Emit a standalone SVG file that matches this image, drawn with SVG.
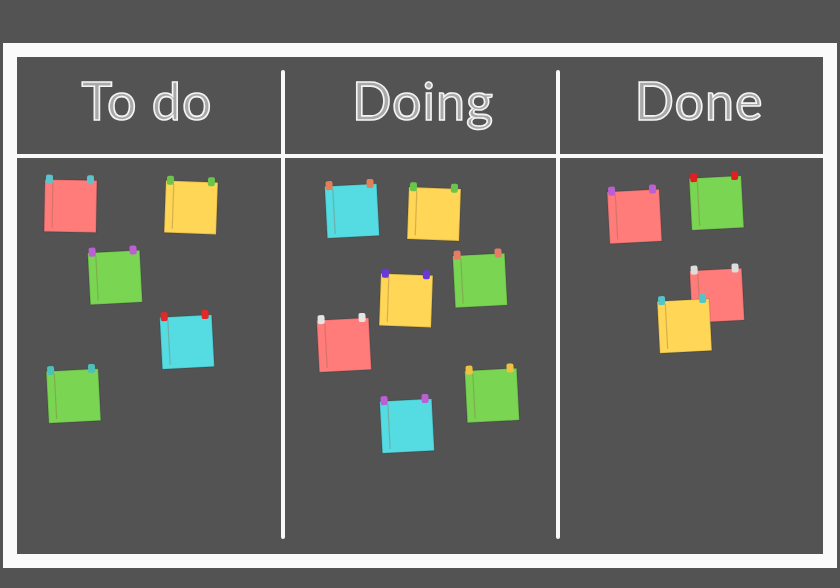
<svg xmlns="http://www.w3.org/2000/svg" width="840" height="588" viewBox="0 0 840 588">
<defs>
<style>
.bg{fill:#535353}
.frame{fill:none;stroke:#fafafa;stroke-width:14}
.div{stroke:#f8f8f8;stroke-width:4;stroke-linecap:round}
.hdr{font-family:Lato,"Open Sans",sans-serif;font-weight:400;font-size:52px;fill:#a9a9a9;stroke:#f4f4f4;stroke-width:1.6;text-anchor:middle;letter-spacing:1px}
.pk{fill:#ff7c7a}.yl{fill:#ffd655}.gr{fill:#7ad553}.cy{fill:#55dbe2}
.edge{fill:none;stroke:#000;stroke-opacity:0.12;stroke-width:1.5}
.crease{stroke:#8a6a40;stroke-opacity:0.35;stroke-width:1.2}
</style>
</defs>
<rect class="bg" x="0" y="0" width="840" height="588"/>
<rect class="frame" x="10" y="50" width="820" height="511"/>
<g id="dividers">
<line class="div" x1="17" y1="156" x2="823" y2="156"/>
<line class="div" x1="283" y1="72" x2="283" y2="537"/>
<line class="div" x1="558" y1="72" x2="558" y2="537"/>
</g>
<g id="headers">
<text class="hdr" x="147" y="120">To do</text>
<text class="hdr" x="423" y="120">Doing</text>
<text class="hdr" x="699" y="120">Done</text>
</g>
<g id="notes">
<!-- To do -->
<g id="n1" transform="translate(70.5,206) rotate(1)"><rect class="pk" x="-26" y="-26" width="52" height="52"/><rect class="edge" x="-26" y="-26" width="52" height="52"/><line class="crease" x1="-18" y1="-23" x2="-18" y2="22"/><rect x="-25" y="-31" width="7" height="9" rx="2" fill="#5cc3cc"/><rect x="16" y="-31" width="7" height="9" rx="2" fill="#5cc3cc"/></g>
<g id="n2" transform="translate(191,207.5) rotate(2)"><rect class="yl" x="-26" y="-26" width="52" height="52"/><rect class="edge" x="-26" y="-26" width="52" height="52"/><line class="crease" x1="-18" y1="-23" x2="-18" y2="22"/><rect x="-25" y="-31" width="7" height="9" rx="2" fill="#6cc44a"/><rect x="16" y="-31" width="7" height="9" rx="2" fill="#6cc44a"/></g>
<g id="n3" transform="translate(115,277.5) rotate(-3)"><rect class="gr" x="-26" y="-26" width="52" height="52"/><rect class="edge" x="-26" y="-26" width="52" height="52"/><line class="crease" x1="-18" y1="-23" x2="-18" y2="22"/><rect x="-25" y="-31" width="7" height="9" rx="2" fill="#bb5fd3"/><rect x="16" y="-31" width="7" height="9" rx="2" fill="#bb5fd3"/></g>
<g id="n4" transform="translate(187,342) rotate(-3)"><rect class="cy" x="-26" y="-26" width="52" height="52"/><rect class="edge" x="-26" y="-26" width="52" height="52"/><line class="crease" x1="-18" y1="-23" x2="-18" y2="22"/><rect x="-25" y="-31" width="7" height="9" rx="2" fill="#e02a2a"/><rect x="16" y="-31" width="7" height="9" rx="2" fill="#e02a2a"/></g>
<g id="n5" transform="translate(73.5,396) rotate(-3)"><rect class="gr" x="-26" y="-26" width="52" height="52"/><rect class="edge" x="-26" y="-26" width="52" height="52"/><line class="crease" x1="-18" y1="-23" x2="-18" y2="22"/><rect x="-25" y="-31" width="7" height="9" rx="2" fill="#4fc0b8"/><rect x="16" y="-31" width="7" height="9" rx="2" fill="#4fc0b8"/></g>
<!-- Doing -->
<g id="n6" transform="translate(352,211) rotate(-3)"><rect class="cy" x="-26" y="-26" width="52" height="52"/><rect class="edge" x="-26" y="-26" width="52" height="52"/><line class="crease" x1="-18" y1="-23" x2="-18" y2="22"/><rect x="-25" y="-31" width="7" height="9" rx="2" fill="#e0805a"/><rect x="16" y="-31" width="7" height="9" rx="2" fill="#e0805a"/></g>
<g id="n7" transform="translate(434,214) rotate(2)"><rect class="yl" x="-26" y="-26" width="52" height="52"/><rect class="edge" x="-26" y="-26" width="52" height="52"/><line class="crease" x1="-18" y1="-23" x2="-18" y2="22"/><rect x="-25" y="-31" width="7" height="9" rx="2" fill="#6cc44a"/><rect x="16" y="-31" width="7" height="9" rx="2" fill="#6cc44a"/></g>
<g id="n8" transform="translate(480,280.5) rotate(-3)"><rect class="gr" x="-26" y="-26" width="52" height="52"/><rect class="edge" x="-26" y="-26" width="52" height="52"/><line class="crease" x1="-18" y1="-23" x2="-18" y2="22"/><rect x="-25" y="-31" width="7" height="9" rx="2" fill="#e57c68"/><rect x="16" y="-31" width="7" height="9" rx="2" fill="#e57c68"/></g>
<g id="n9" transform="translate(406,300.5) rotate(2)"><rect class="yl" x="-26" y="-26" width="52" height="52"/><rect class="edge" x="-26" y="-26" width="52" height="52"/><line class="crease" x1="-18" y1="-23" x2="-18" y2="22"/><rect x="-25" y="-31" width="7" height="9" rx="2" fill="#6a38d8"/><rect x="16" y="-31" width="7" height="9" rx="2" fill="#6a38d8"/></g>
<g id="n10" transform="translate(344,345) rotate(-3)"><rect class="pk" x="-26" y="-26" width="52" height="52"/><rect class="edge" x="-26" y="-26" width="52" height="52"/><line class="crease" x1="-18" y1="-23" x2="-18" y2="22"/><rect x="-25" y="-31" width="7" height="9" rx="2" fill="#e4e4e4"/><rect x="16" y="-31" width="7" height="9" rx="2" fill="#e4e4e4"/></g>
<g id="n11" transform="translate(407,426) rotate(-3)"><rect class="cy" x="-26" y="-26" width="52" height="52"/><rect class="edge" x="-26" y="-26" width="52" height="52"/><line class="crease" x1="-18" y1="-23" x2="-18" y2="22"/><rect x="-25" y="-31" width="7" height="9" rx="2" fill="#bb5fd3"/><rect x="16" y="-31" width="7" height="9" rx="2" fill="#bb5fd3"/></g>
<g id="n12" transform="translate(492,395.5) rotate(-3)"><rect class="gr" x="-26" y="-26" width="52" height="52"/><rect class="edge" x="-26" y="-26" width="52" height="52"/><line class="crease" x1="-18" y1="-23" x2="-18" y2="22"/><rect x="-25" y="-31" width="7" height="9" rx="2" fill="#f0c040"/><rect x="16" y="-31" width="7" height="9" rx="2" fill="#f0c040"/></g>
<!-- Done -->
<g id="n13" transform="translate(634.5,216.5) rotate(-3)"><rect class="pk" x="-26" y="-26" width="52" height="52"/><rect class="edge" x="-26" y="-26" width="52" height="52"/><line class="crease" x1="-18" y1="-23" x2="-18" y2="22"/><rect x="-25" y="-31" width="7" height="9" rx="2" fill="#bb5fd3"/><rect x="16" y="-31" width="7" height="9" rx="2" fill="#bb5fd3"/></g>
<g id="n14" transform="translate(716.5,203) rotate(-3)"><rect class="gr" x="-26" y="-26" width="52" height="52"/><rect class="edge" x="-26" y="-26" width="52" height="52"/><line class="crease" x1="-18" y1="-23" x2="-18" y2="22"/><rect x="-25" y="-31" width="7" height="9" rx="2" fill="#e02020"/><rect x="16" y="-31" width="7" height="9" rx="2" fill="#e02020"/></g>
<g id="n15" transform="translate(717,295.5) rotate(-3)"><rect class="pk" x="-26" y="-26" width="52" height="52"/><rect class="edge" x="-26" y="-26" width="52" height="52"/><line class="crease" x1="-18" y1="-23" x2="-18" y2="22"/><rect x="-25" y="-31" width="7" height="9" rx="2" fill="#dddddd"/><rect x="16" y="-31" width="7" height="9" rx="2" fill="#dddddd"/></g>
<g id="n16" transform="translate(684.5,326) rotate(-3)"><rect class="yl" x="-26" y="-26" width="52" height="52"/><rect class="edge" x="-26" y="-26" width="52" height="52"/><line class="crease" x1="-18" y1="-23" x2="-18" y2="22"/><rect x="-25" y="-31" width="7" height="9" rx="2" fill="#55c4c8"/><rect x="16" y="-31" width="7" height="9" rx="2" fill="#55c4c8"/></g>
</g>
</svg>
